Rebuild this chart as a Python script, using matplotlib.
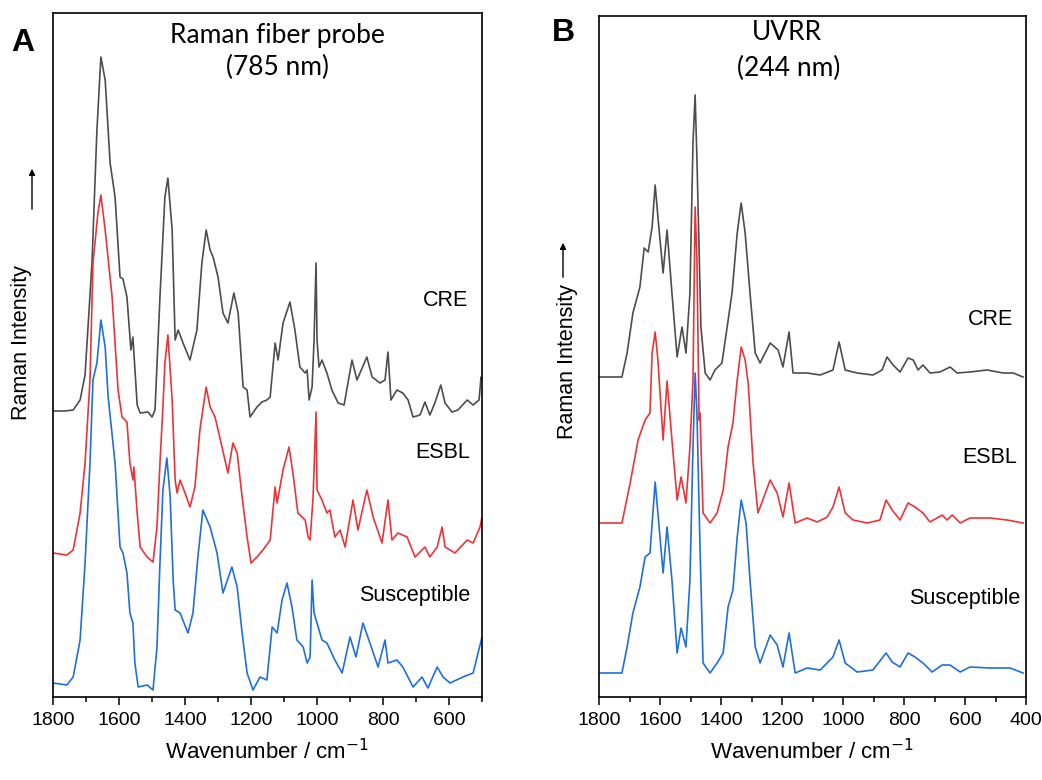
import numpy as np
import matplotlib
matplotlib.use("Agg")
from matplotlib import pyplot as plt
from matplotlib.ticker import MultipleLocator

plt.rcParams['font.family'] = ['Liberation Sans', 'DejaVu Sans']

# ---- Panel A: Raman fiber probe (785 nm), intensity above each trace's baseline ----
a_cre_wn = [1800, 1764, 1739, 1718, 1703, 1682, 1667, 1655, 1642, 1627, 1612, 1597, 1588, 1576, 1564, 1558,
            1545, 1536, 1512, 1500, 1491, 1476, 1461, 1452, 1439, 1430, 1421, 1406, 1385, 1364, 1349, 1336,
            1324, 1315, 1300, 1285, 1270, 1252, 1239, 1224, 1212, 1203, 1182, 1167, 1152, 1142, 1127, 1118,
            1103, 1082, 1067, 1052, 1036, 1030, 1024, 1015, 1009, 1003, 1000, 994, 985, 970, 955, 936, 918,
            894, 879, 849, 833, 809, 794, 785, 776, 758, 740, 724, 709, 688, 673, 658, 643, 625, 612, 591,
            573, 545, 527, 509, 503, 500]
a_cre_int = [0, 0, 1, 11, 36, 148, 281, 354, 331, 248, 214, 134, 132, 114, 61, 74,
             6, -2, -1, -6, 1, 114, 214, 233, 181, 71, 81, 68, 51, 81, 148, 181,
             161, 154, 134, 98, 88, 118, 98, 24, 21, -6, 4, 9, 11, 14, 68, 51,
             88, 109, 81, 44, 38, 41, 11, 24, 71, 148, 71, 44, 51, 38, 21, 8, 6,
             51, 31, 54, 34, 28, 31, 59, 11, 21, 18, 11, -6, -4, 9, -4, 8, 26, 8, -1,
             1, 11, 6, 11, 34, 31]

a_esbl_wn = [1800, 1758, 1739, 1718, 1703, 1688, 1679, 1664, 1655, 1642, 1621, 1603, 1591, 1576, 1567, 1558,
             1555, 1545, 1536, 1515, 1497, 1485, 1476, 1467, 1461, 1452, 1439, 1430, 1424, 1415, 1400, 1385,
             1370, 1355, 1336, 1324, 1309, 1288, 1270, 1255, 1242, 1227, 1212, 1200, 1182, 1164, 1142, 1127,
             1121, 1103, 1085, 1073, 1058, 1036, 1027, 1021, 1012, 1003, 1000, 985, 970, 961, 946, 930, 915,
             891, 876, 849, 830, 803, 785, 773, 755, 727, 703, 673, 658, 636, 621, 612, 582, 545, 527, 506, 500]
a_esbl_int = [0, -2, 3, 40, 90, 173, 290, 340, 358, 323, 256, 163, 136, 131, 90, 73,
              86, 40, 6, -4, -9, 26, 90, 146, 190, 218, 153, 73, 60, 73, 60, 46,
              66, 123, 166, 146, 136, 106, 80, 110, 100, 56, 16, -10, -4, 3, 13, 66,
              50, 83, 106, 80, 40, 33, 16, 13, 56, 141, 63, 53, 40, 43, 16, 23, 6,
              53, 23, 63, 36, 10, 53, 13, 20, 16, -4, 6, -4, 6, 26, 6, 0, 13, 10, 26, 36]

a_sus_wn = [1800, 1758, 1739, 1718, 1703, 1688, 1679, 1667, 1655, 1642, 1633, 1612, 1597, 1588, 1576, 1567,
            1558, 1552, 1542, 1515, 1497, 1485, 1476, 1467, 1455, 1445, 1436, 1430, 1415, 1391, 1376, 1361,
            1346, 1324, 1303, 1285, 1258, 1242, 1227, 1212, 1194, 1173, 1152, 1136, 1121, 1106, 1091, 1076,
            1061, 1042, 1030, 1021, 1015, 1009, 1000, 985, 970, 946, 924, 900, 882, 861, 846, 815, 794, 785,
            758, 740, 709, 682, 664, 636, 618, 597, 558, 527, 512, 500]
a_sus_int = [0, -2, 6, 43, 120, 220, 303, 320, 363, 336, 286, 220, 136, 130, 110, 70,
             60, 20, -4, -2, -7, 36, 120, 193, 225, 186, 103, 73, 70, 50, 70, 126,
             173, 156, 130, 90, 116, 96, 50, 10, -7, 6, 3, 56, 50, 83, 100, 76,
             43, 36, 20, 26, 103, 70, 60, 43, 40, 23, 10, 46, 26, 60, 46, 16, 43, 20,
             23, 16, -4, 6, -5, 16, 6, 0, 6, 10, 30, 46]

# ---- Panel B: UVRR (244 nm) ----
b_cre_wn = [1797, 1725, 1708, 1689, 1666, 1652, 1639, 1626, 1616, 1607, 1590, 1577, 1561, 1544, 1528, 1515,
            1502, 1492, 1485, 1479, 1466, 1452, 1436, 1420, 1397, 1380, 1364, 1347, 1334, 1321, 1305, 1288,
            1272, 1239, 1213, 1197, 1177, 1164, 1118, 1075, 1033, 1013, 993, 954, 902, 872, 856, 836, 813,
            787, 770, 754, 738, 715, 682, 649, 626, 584, 528, 475, 442, 410]
b_cre_int = [0, 0, 24, 64, 90, 129, 125, 150, 192, 160, 104, 147, 84, 20, 50, 24,
             84, 234, 282, 217, 50, 4, -3, 7, 14, 50, 84, 144, 174, 144, 84, 24,
             14, 34, 27, 10, 45, 4, 4, 2, 7, 35, 7, 4, 2, 7, 20, 12, 5,
             19, 17, 7, 12, 4, 5, 10, 4, 5, 7, 4, 4, 0]

b_esbl_wn = [1797, 1725, 1698, 1672, 1649, 1633, 1626, 1616, 1607, 1590, 1577, 1561, 1544, 1531, 1515, 1502,
             1492, 1485, 1479, 1472, 1469, 1459, 1436, 1413, 1393, 1377, 1361, 1347, 1334, 1321, 1311, 1295,
             1279, 1239, 1216, 1197, 1177, 1157, 1118, 1085, 1052, 1033, 1013, 993, 967, 921, 879, 859, 839,
             813, 787, 764, 738, 715, 675, 659, 642, 616, 584, 518, 462, 410]
b_esbl_int = [0, 0, 40, 83, 103, 110, 170, 191, 163, 83, 142, 83, 23, 46, 20, 76,
              143, 316, 263, 103, 110, 10, 0, 10, 33, 76, 100, 143, 176, 163, 140, 60,
              10, 43, 30, 6, 40, 0, 5, 1, 6, 16, 36, 10, 3, 0, 3, 23, 13,
              3, 20, 16, 10, 1, 8, 3, 8, 0, 5, 5, 3, 0]

b_sus_wn = [1797, 1725, 1708, 1689, 1666, 1649, 1633, 1616, 1607, 1590, 1577, 1561, 1544, 1531, 1515, 1502,
            1492, 1485, 1479, 1469, 1459, 1436, 1413, 1393, 1377, 1361, 1347, 1334, 1318, 1305, 1288, 1272,
            1239, 1216, 1197, 1177, 1157, 1118, 1075, 1033, 1013, 993, 954, 902, 859, 839, 813, 787, 764,
            738, 708, 675, 649, 616, 584, 518, 452, 410]
b_sus_int = [0, 0, 26, 60, 86, 116, 120, 191, 160, 100, 146, 93, 20, 45, 26, 93,
             226, 300, 260, 126, 10, 0, 10, 20, 66, 83, 136, 173, 150, 93, 26, 10,
             38, 28, 6, 40, 0, 5, 3, 16, 33, 10, 1, 3, 20, 11, 6, 20, 16,
             10, 1, 8, 8, 1, 6, 5, 5, 0]

labels = ['CRE', 'ESBL', 'Susceptible']
colors = ['#4d4d4d', '#ee3338', '#1f6fdc']
offsets_a = [286, 144, 14]
offsets_b = [320, 174, 24]

fig = plt.figure(figsize=(10.42, 7.8), dpi=100)
ax_a = fig.add_axes([0.0509, 0.1064, 0.4117, 0.8769])
ax_b = fig.add_axes([0.5749, 0.1064, 0.4098, 0.8731])

series_a = [(a_cre_wn, a_cre_int), (a_esbl_wn, a_esbl_int), (a_sus_wn, a_sus_int)]
series_b = [(b_cre_wn, b_cre_int), (b_esbl_wn, b_esbl_int), (b_sus_wn, b_sus_int)]

for (wn, inten), off, c in zip(series_a, offsets_a, colors):
    ax_a.plot(wn, np.array(inten) + off, color=c, lw=1.2)
for (wn, inten), off, c in zip(series_b, offsets_b, colors):
    ax_b.plot(wn, np.array(inten) + off, color=c, lw=1.2)

ax_a.set_xlim(1800, 500)
ax_a.set_ylim(0, 684)
ax_b.set_xlim(1800, 400)
ax_b.set_ylim(0, 681)

for ax in (ax_a, ax_b):
    ax.xaxis.set_major_locator(MultipleLocator(200))
    ax.xaxis.set_minor_locator(MultipleLocator(100))
    ax.set_yticks([])
    ax.tick_params(axis='x', which='major', length=6, width=1.1, labelsize=14, direction='out', pad=5)
    ax.tick_params(axis='x', which='minor', length=3.5, width=1.1, direction='out')
    for sp in ax.spines.values():
        sp.set_linewidth(1.2)
    ax.set_xlabel('Wavenumber / cm$^{-1}$', fontsize=16, labelpad=7)

# trace labels
lab_pos_a = [(0.967, 0.580), (0.972, 0.357), (0.972, 0.149)]
lab_pos_b = [(0.970, 0.554), (0.979, 0.352), (0.986, 0.145)]
for (x, y), t in zip(lab_pos_a, labels):
    ax_a.text(x, y, t, transform=ax_a.transAxes, ha='right', va='center', fontsize=15.5)
for (x, y), t in zip(lab_pos_b, labels):
    ax_b.text(x, y, t, transform=ax_b.transAxes, ha='right', va='center', fontsize=15.5)

W, H = 1042, 780
def fx(px):
    return px / W
def fy(py):
    return 1 - py / H

# panel titles
title_font = ['Lato', 'DejaVu Sans']
fig.text(fx(277), fy(35), 'Raman fiber probe', ha='center', va='center', fontsize=19, family=title_font)
fig.text(fx(277), fy(67), '(785 nm)', ha='center', va='center', fontsize=19, family=title_font)
fig.text(fx(787), fy(33), 'UVRR', ha='center', va='center', fontsize=19, family=title_font)
fig.text(fx(789), fy(68), '(244 nm)', ha='center', va='center', fontsize=19, family=title_font)

# panel letters
fig.text(fx(23), fy(43), 'A', ha='center', va='center', fontsize=23, fontweight='bold')
fig.text(fx(563), fy(33), 'B', ha='center', va='center', fontsize=23, fontweight='bold')

# y labels with arrows
fig.text(fx(22), fy(343), 'Raman Intensity', rotation=90, ha='center', va='center', fontsize=15.5)
fig.text(fx(568), fy(362), 'Raman Intensity', rotation=90, ha='center', va='center', fontsize=15.5)
fig.add_artist(matplotlib.patches.FancyArrowPatch((fx(32), fy(212)), (fx(32), fy(166)),
               transform=fig.transFigure, arrowstyle='-|>', mutation_scale=9, lw=1.0, color='black'))
fig.add_artist(matplotlib.patches.FancyArrowPatch((fx(563), fy(280)), (fx(563), fy(240)),
               transform=fig.transFigure, arrowstyle='-|>', mutation_scale=9, lw=1.0, color='black'))

fig.savefig('out.png', dpi=100)
